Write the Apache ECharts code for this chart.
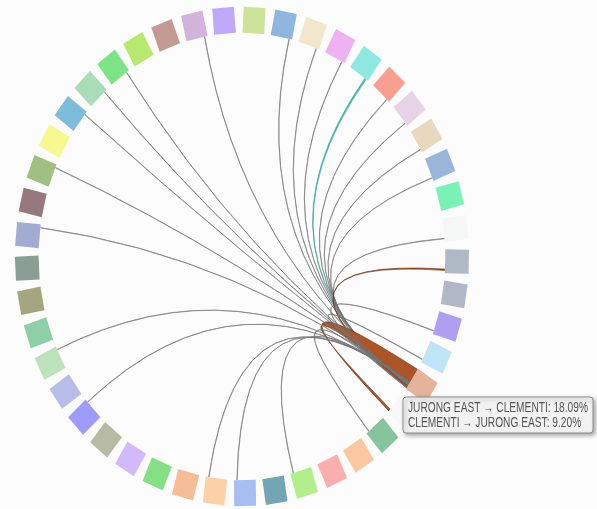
<!DOCTYPE html>
<html><head><meta charset="utf-8">
<script src="https://cdn.jsdelivr.net/npm/echarts@6/dist/echarts.min.js"></script>
<style>html,body{margin:0;padding:0;background:#fcfcfc}#c{width:597px;height:509px}</style>
</head><body><div id="c"></div>
<script>
// ---- data ----
const nodeNames = ['BUKIT TIMAH','TANGLIN','NOVENA','TOA PAYOH','BISHAN','ANG MO KIO','SERANGOON','HOUGANG','SENGKANG','PUNGGOL','SELETAR','PASIR RIS','TAMPINES','BEDOK','QUEENSTOWN','JURONG EAST','CLEMENTI','BUKIT MERAH','OUTRAM','SINGAPORE RIVER','DOWNTOWN CORE','MARINA SOUTH','MUSEUM','ROCHOR','KALLANG','GEYLANG','MARINE PARADE','PAYA LEBAR','CHANGI','CHANGI BAY','NEWTON','ORCHARD','RIVER VALLEY','SOUTHERN ISLANDS','JURONG WEST','BOON LAY','PIONEER','TUAS','TENGAH','BUKIT BATOK','CHOA CHU KANG','BUKIT PANJANG','SUNGEI KADUT','WOODLANDS','YISHUN'];
const nodeColors = ['#cbe39a','#8fb6dc','#f3e6cc','#eeb2f0','#8ee8df','#fa9f8f','#e6d3e7','#e8d8bd','#99b6da','#7af2b5','#f5f6f6','#afb8c5','#b1b7c6','#ae9ff0','#bfe4f5','#e3b49b','#f8f8f8','#87c39d','#fcc8a1','#f9afae','#b3ee8c','#74a5b5','#a8bdf1','#fdd1a8','#f6bb97','#85e085','#d3b9fa','#b7bba4','#9e9bfa','#b8bde7','#bde2bb','#8dcfa8','#a3a67f','#8b9e96','#a1acd0','#98787f','#9fc080','#f7f88f','#7ebcdc','#aadcb7','#7de486','#b8e86f','#c39993','#d4b3db','#bfaafa'];
const sourceNode = 'JURONG EAST';
const chordTargets = ['TANGLIN','NOVENA','TOA PAYOH','BISHAN','ANG MO KIO','SERANGOON','HOUGANG','SENGKANG','SELETAR','PASIR RIS','BEDOK','QUEENSTOWN','CLEMENTI','BUKIT MERAH','DOWNTOWN CORE','MUSEUM','ROCHOR','CHANGI','NEWTON','JURONG WEST','PIONEER','TENGAH','BUKIT BATOK','CHOA CHU KANG','WOODLANDS'];
const flowFromSource = [0.22,0.20,0.20,0.60,0.22,0.20,0.22,0.25,0.28,2.10,0.22,0.35,18.09,0.30,0.20,0.22,0.20,0.22,0.25,0.20,0.22,0.25,0.22,0.22,0.20];
const flowToSource   = [1.8,1.6,1.7,7.0,1.8,1.6,1.7,1.9,2.2,5.4,1.8,2.6,9.20,2.3,1.5,1.7,1.6,1.8,1.9,1.6,1.7,2.0,1.8,1.7,1.6];
const tooltipTarget = 'CLEMENTI';
const highlightColors = {'JURONG EAST': '#ad5528', 'BISHAN': '#4ec3b3'};

// ---- layout constants ----
const N = nodeNames.length;
const STEP = 360 / N, START = 3.2;
const HW = 0.0507, HR = 0.055, R_IN = 0.945;
const K_SRC = 0.22, K_TGT = 0.065, TGT_OFF = 2.2;
const srcIdx = nodeNames.indexOf(sourceNode);
const angleOf = i => START + i * STEP;

// stacking at source end
const order = chordTargets.map((n, i) => i).sort((a, b) =>
  ((nodeNames.indexOf(chordTargets[a]) - srcIdx + N) % N) - ((nodeNames.indexOf(chordTargets[b]) - srcIdx + N) % N));
const srcStart = [];
let acc = angleOf(srcIdx) - 2.9;
order.forEach(ci => { srcStart[ci] = acc; acc += flowFromSource[ci] * K_SRC; });

function ptOnRing(deg) { const a = deg * Math.PI / 180; return [R_IN * Math.sin(a), R_IN * Math.cos(a)]; }

function nodeItem(params, api) {
  const i = api.value(0);
  const a = angleOf(i) * Math.PI / 180;
  const c = [Math.sin(a), Math.cos(a)], t = [Math.cos(a), -Math.sin(a)];
  const pts = [[1,1],[1,-1],[-1,-1],[-1,1]].map(([s, r]) =>
    api.coord([c[0] + s * HW * t[0] + r * HR * c[0], c[1] + s * HW * t[1] + r * HR * c[1]]));
  return { type: 'polygon', shape: { points: pts }, style: { fill: nodeColors[i] } };
}

function chordItem(params, api) {
  const ci = params.dataIndex;
  const tIdx = api.value(0);
  const a0 = srcStart[ci], a1 = a0 + api.value(1) * K_SRC;
  const tc = angleOf(tIdx) + TGT_OFF, w = api.value(2) * K_TGT;
  const b0 = tc - w / 2, b1 = tc + w / 2;
  const P = d => api.coord(ptOnRing(d));
  const C = api.coord([0, 0]);
  const f = p => p[0].toFixed(2) + ' ' + p[1].toFixed(2);
  const d = 'M' + f(P(a0)) + ' L' + f(P(a1)) + ' Q' + f(C) + ' ' + f(P(b0)) +
            ' L' + f(P(b1)) + ' Q' + f(C) + ' ' + f(P(a0)) + ' Z';
  const from = api.value(1), to = api.value(2);
  const tName = nodeNames[tIdx];
  let fill = 'rgba(140,140,140,0.5)', stroke = 'rgba(115,115,115,0.75)';
  if (from >= 2) { fill = highlightColors[sourceNode]; stroke = 'rgba(90,40,18,0.7)'; }
  else if (to >= 6 && highlightColors[tName]) { fill = highlightColors[tName]; stroke = 'rgba(60,160,145,0.8)'; }
  return { type: 'path', shape: { pathData: d }, style: { fill: fill, stroke: stroke, lineWidth: 0.8 } };
}

// tooltip text
const ti = chordTargets.indexOf(tooltipTarget);
const line1 = sourceNode + ' \u2192 ' + tooltipTarget + ': ' + flowFromSource[ti].toFixed(2) + '%';
const line2 = tooltipTarget + ' \u2192 ' + sourceNode + ': ' + flowToSource[ti].toFixed(2) + '%';
const FONT = '14px "Liberation Sans"';
const mctx = document.createElement('canvas').getContext('2d');
mctx.font = FONT;
const sx = 180 / mctx.measureText(line1).width;

const chart = echarts.init(document.getElementById('c'));
chart.setOption({
  animation: false,
  backgroundColor: '#fcfcfc',
  grid: { left: 5.5, width: 473, top: 8.17, height: 496.65, outerBoundsMode: 'none', containLabel: false },
  xAxis: { type: 'value', min: -1.1, max: 1.1, show: false },
  yAxis: { type: 'value', min: -1.05, max: 1.05, show: false },
  series: [
    { type: 'custom', name: 'chords', clip: false, silent: true, renderItem: chordItem,
      data: chordTargets.map((n, i) => [nodeNames.indexOf(n), flowFromSource[i], flowToSource[i]]), z: 1 },
    { type: 'custom', name: 'nodes', clip: false, silent: true, renderItem: nodeItem,
      data: nodeNames.map((n, i) => [i]), z: 2 }
  ],
  graphic: [
    { type: 'rect', z: 100, shape: { x: 403, y: 397, width: 190, height: 36, r: 3 },
      style: { fill: 'rgba(245,245,245,0.97)', stroke: '#8e8e8e', lineWidth: 1,
               shadowBlur: 4, shadowOffsetX: 2, shadowOffsetY: 2, shadowColor: 'rgba(0,0,0,0.35)' } },
    { type: 'text', z: 101, x: 408, y: 408, scaleX: sx,
      style: { text: line1, font: FONT, fill: '#555555', textAlign: 'left', textVerticalAlign: 'middle', align: 'left', verticalAlign: 'middle' } },
    { type: 'text', z: 101, x: 408, y: 423, scaleX: sx,
      style: { text: line2, font: FONT, fill: '#555555', textAlign: 'left', textVerticalAlign: 'middle', align: 'left', verticalAlign: 'middle' } }
  ]
});
</script></body></html>
